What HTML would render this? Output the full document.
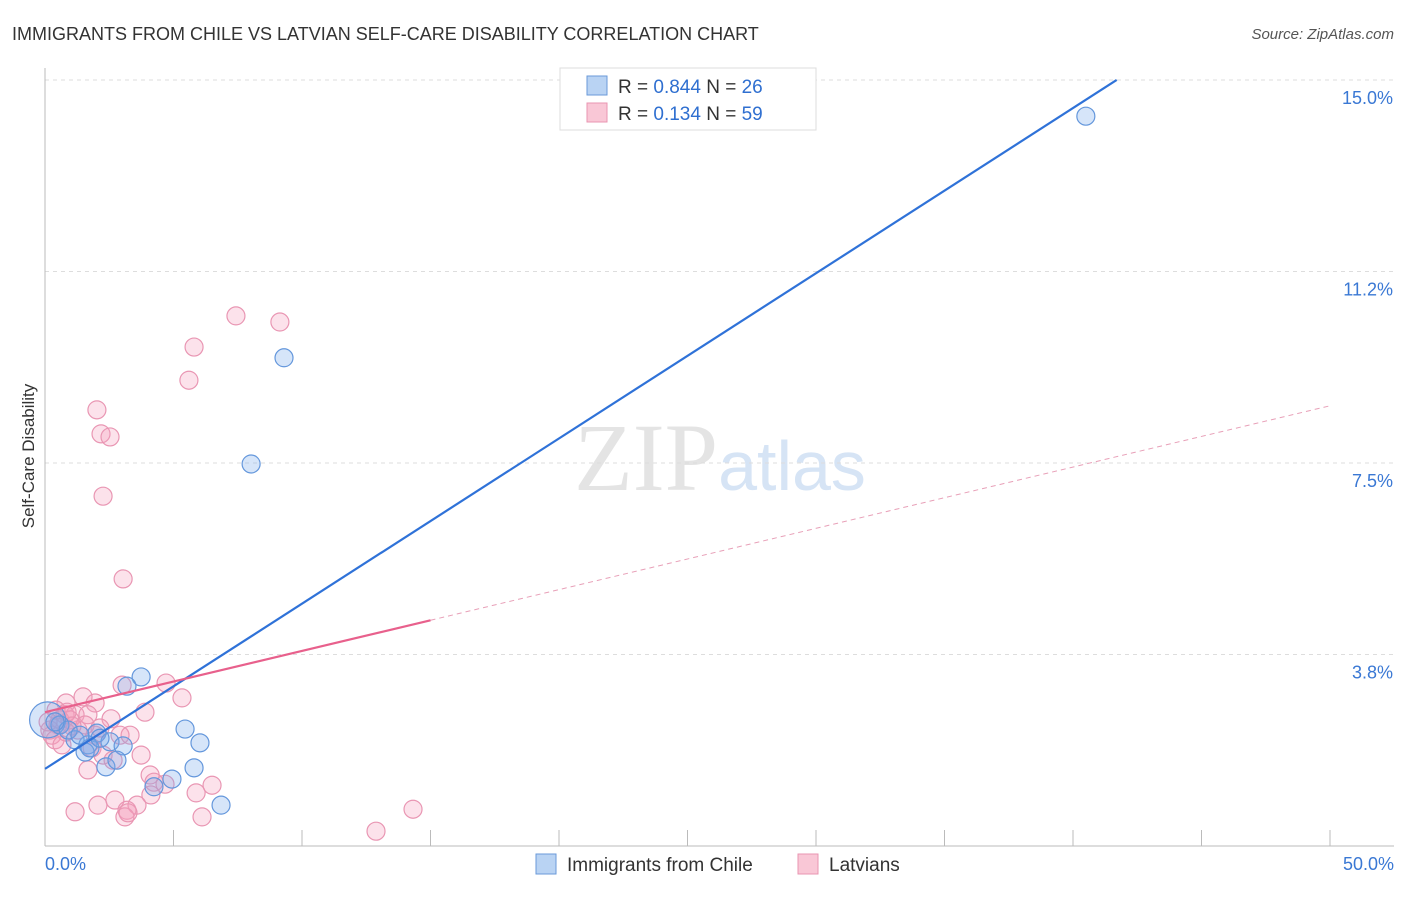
<!DOCTYPE html>
<html><head><meta charset="utf-8"><style>
body{margin:0;background:#fff;font-family:"Liberation Sans",sans-serif}
</style></head><body>
<svg id="c" width="1406" height="892" xmlns="http://www.w3.org/2000/svg" style="font-family:'Liberation Sans',sans-serif">
<text x="12" y="40" font-size="18" fill="#333">IMMIGRANTS FROM CHILE VS LATVIAN SELF-CARE DISABILITY CORRELATION CHART</text>
<text x="1394" y="39" font-size="15" fill="#555" font-style="italic" text-anchor="end">Source: ZipAtlas.com</text>
<text x="720" y="490" font-size="96" fill="#e4e4e4" text-anchor="middle" font-family="Liberation Serif">ZIP<tspan fill="#d6e4f5" font-family="Liberation Sans" font-size="70">atlas</tspan></text>
<text transform="translate(34,456) rotate(-90)" font-size="17" fill="#333" text-anchor="middle">Self-Care Disability</text>
<g id="grid"></g><g id="pts"></g><g id="lines"></g>
<g>
<rect x="560" y="68" width="256" height="62" fill="#fff" stroke="#ddd"/>
<rect x="587" y="76" width="20" height="19" fill="#b9d3f3" stroke="#6a9ad8"/>
<rect x="587" y="103" width="20" height="19" fill="#f9c7d6" stroke="#e994b1"/>
<text x="618" y="93" font-size="19" fill="#333">R = <tspan fill="#2f6fd0">0.844</tspan>   N = <tspan fill="#2f6fd0">26</tspan></text>
<text x="618" y="120" font-size="19" fill="#333">R =  <tspan fill="#2f6fd0">0.134</tspan>   N = <tspan fill="#2f6fd0">59</tspan></text>
</g>
<g>
<rect x="536" y="854" width="20" height="20" fill="#b9d3f3" stroke="#6a9ad8"/>
<text x="567" y="871" font-size="19" fill="#333">Immigrants from Chile</text>
<rect x="798" y="854" width="20" height="20" fill="#f9c7d6" stroke="#e994b1"/>
<text x="829" y="871" font-size="19" fill="#333">Latvians</text>
</g>
</svg>
<script>
const yTicks=[15,11.25,7.5,3.75];
const yTickLabels=["15.0%","11.2%","7.5%","3.8%"];
const xTickLabels=["0.0%","50.0%"];
const blueX=[40.5,9.3,8.02,3.74,3.19,5.45,6.03,2.02,2.53,3.04,1.67,2.37,2.8,1.56,5.8,4.94,4.24,6.85,0.1,0.58,1.17,1.75,0.9,0.39,1.36,2.14];
const blueY=[14.29,9.56,7.48,3.31,3.13,2.29,2.02,2.21,2.04,1.96,1.98,1.55,1.68,1.84,1.53,1.31,1.16,0.8,2.47,2.37,2.08,1.92,2.27,2.43,2.17,2.11];
const pinkX=[7.43,9.14,5.8,5.6,2.02,2.18,2.53,2.26,3.04,3.0,4.71,5.33,1.48,0.82,1.95,3.89,2.57,1.17,0.78,1.67,0.51,0.27,0.19,1.28,1.95,2.92,1.83,2.26,3.74,1.67,4.09,4.24,4.67,6.5,5.88,4.12,2.72,2.06,1.17,3.58,3.19,3.11,3.23,6.11,12.88,14.32,0.97,0.58,1.56,0.43,0.86,0.39,0.66,2.14,1.05,0.12,2.65,3.31,0.82];
const pinkY=[10.38,10.26,9.77,9.12,8.54,8.07,8.01,6.85,5.23,3.15,3.19,2.9,2.92,2.8,2.8,2.62,2.49,2.57,2.57,2.57,2.37,2.17,2.27,2.27,2.17,2.17,1.92,1.78,1.78,1.49,1.39,1.25,1.21,1.19,1.04,1.0,0.9,0.8,0.67,0.8,0.7,0.57,0.65,0.57,0.29,0.72,2.47,2.47,2.37,2.66,2.62,2.08,1.98,2.31,2.35,2.43,1.68,2.17,2.23];
const blueFit=[1.51,0.3235];
const pinkFit=[2.62,0.12];
const NS="http://www.w3.org/2000/svg";
const X=v=>45+v*25.7, Y=v=>846-v*51.07;
function mk(tag,attrs,parent){const e=document.createElementNS(NS,tag);for(const k in attrs)e.setAttribute(k,attrs[k]);document.getElementById(parent).appendChild(e);return e;}
yTicks.forEach((t,i)=>{
 const l=mk('line',{x1:45,x2:1394,y1:Y(t),y2:Y(t),stroke:'#ddd','stroke-dasharray':'4,4'},'grid');
 
 
 const tx=mk('text',{x:1393,y:Y(t)+24,'font-size':18,fill:'#3a78d4','text-anchor':'end'},'grid');
 tx.textContent=yTickLabels[i];
 
 
});
const ax=mk('line',{x1:45,x2:1394,y1:846,y2:846,stroke:'#bbb'},'grid');


const ay=mk('line',{x1:45,x2:45,y1:68,y2:846,stroke:'#bbb'},'grid');


for(let v=5;v<=50;v+=5){
 const t=mk('line',{x1:X(v),x2:X(v),y1:830,y2:846,stroke:'#bbb'},'grid');
 
 
}
[[0,'start',45],[50,'end',1394]].forEach((a,i)=>{
 const t=mk('text',{x:a[2],y:870,'font-size':18,fill:'#3a78d4','text-anchor':a[1]},'grid');
 t.textContent=xTickLabels[i];
 
 
});
pinkX.forEach((x,i)=>{
 const c=mk('circle',{cx:X(x),cy:Y(pinkY[i]),r:9,fill:'rgba(244,160,190,0.3)',stroke:'#e996b3','stroke-width':1.2},'pts');
 
 
});
blueX.forEach((x,i)=>{
 const c=mk('circle',{cx:X(x),cy:Y(blueY[i]),r:i==18?18:9,fill:'rgba(120,170,235,0.3)',stroke:'#6497dc','stroke-width':1.2},'pts');
 
 
});
const bx2=(15-blueFit[0])/blueFit[1];
const bl=mk('line',{x1:X(0),y1:Y(blueFit[0]),x2:X(bx2),y2:Y(15),stroke:'#2f72d8','stroke-width':2.2},'lines');


const pl=mk('line',{x1:X(0),y1:Y(pinkFit[0]),x2:X(15),y2:Y(pinkFit[0]+15*pinkFit[1]),stroke:'#e8608c','stroke-width':2.2},'lines');


const pd=mk('line',{x1:X(15),y1:Y(pinkFit[0]+15*pinkFit[1]),x2:X(50),y2:Y(pinkFit[0]+50*pinkFit[1]),stroke:'#e8a0b8','stroke-width':1,'stroke-dasharray':'5,4'},'lines');


</script>
</body></html>
